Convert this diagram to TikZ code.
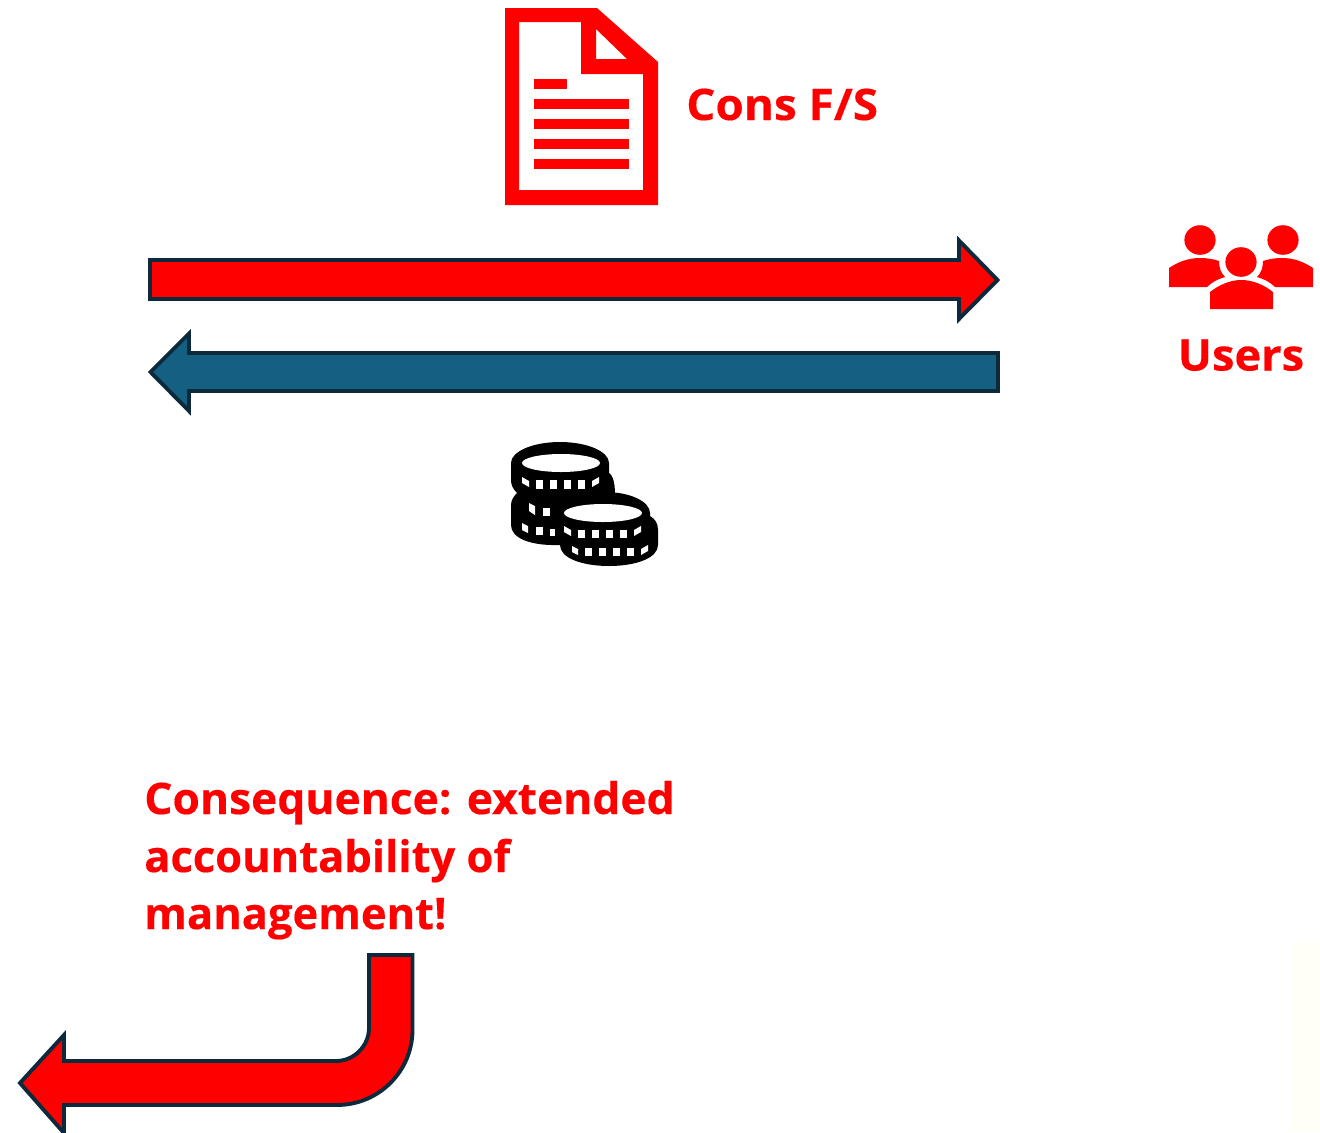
\documentclass[tikz,border=0pt]{standalone}
\usepackage{fontspec}
\setmainfont[BoldFeatures={FakeBold=0.35}]{Open Sans}
\definecolor{myred}{RGB}{255,0,0}
\definecolor{myblue}{RGB}{21,96,130}
\definecolor{myline}{RGB}{12,42,60}
\definecolor{pale}{RGB}{255,255,245}
\tikzset{
  bigarrow/.style={draw=myline,line width=2.9pt,miter limit=10,line join=miter},
  redtext/.style={text=myred,font=\bfseries\fontsize{32.6pt}{43pt}\selectfont,inner sep=0pt,anchor=base west},
  redicon/.style={fill=myred,draw=none},
  blackicon/.style={fill=black,draw=none},
  whitehole/.style={fill=white,draw=none}
}
\begin{document}
\begin{tikzpicture}[x=0.75pt,y=-0.75pt]
\useasboundingbox (0,0) rectangle (1320,1132);
\fill[pale] (1292,943) rectangle (1320,1132);
% document icon
\fill[redicon,even odd rule] (505,8) -- (597,8) -- (658,62) -- (658,205) -- (505,205) -- cycle
  (519,22) -- (581,22) -- (581,74) -- (643,74) -- (643,190) -- (519,190) -- cycle
  (596,29) -- (596,59) -- (627,59) -- cycle;
\fill[redicon] (534,79) rectangle (567,89);
\foreach \yy in {99,119,139,159} \fill[redicon] (534,\yy) rectangle (629,\yy+10);
\node[redtext] (cons) at (686,120) {\scalebox{1.055}[1]{Cons F/S}};
% users icon
\fill[redicon] (1200,240) ellipse[x radius=15.6,y radius=14.8];
\fill[redicon] (1283,240) ellipse[x radius=15.6,y radius=14.8];
\fill[redicon] (1241,262) ellipse[x radius=15.6,y radius=14.8];
\fill[redicon] (1169,287) -- (1169,268) .. controls (1178,262) and (1188,258) .. (1200,258)
  .. controls (1207,258) and (1213,259) .. (1219,261) .. controls (1219,268) and (1221,273) .. (1225,277)
  .. controls (1218,279) and (1212,282) .. (1207,287) -- cycle;
\fill[redicon] (1313,287) -- (1313,268) .. controls (1304,262) and (1294,258) .. (1282,258)
  .. controls (1275,258) and (1269,259) .. (1263,261) .. controls (1263,268) and (1261,273) .. (1257,277)
  .. controls (1264,279) and (1270,282) .. (1275,287) -- cycle;
\fill[redicon] (1210,309) -- (1210,292) .. controls (1219,285) and (1230,280) .. (1241,280)
  .. controls (1253,280) and (1264,285) .. (1273,292) -- (1273,309) -- cycle;
\node[redtext,anchor=base] (users) at (1241,370.5) {\scalebox{1.04}[1]{Users}};
% arrows
\draw[bigarrow,fill=myred] (150,260) -- (959,260) -- (959,240.5) -- (997.5,280) -- (959,319) -- (959,299) -- (150,299) -- cycle;
\draw[bigarrow,fill=myblue] (998,353) -- (189,353) -- (189,333.5) -- (150.5,372) -- (189,411) -- (189,391) -- (998,391) -- cycle;
% coins icon: rear stack
\fill[blackicon] (511,463) arc[start angle=180,end angle=360,x radius=49,y radius=21] -- (609,473)
  .. controls (612,475) and (615,480) .. (615,495) -- (615,520) -- (560,545)
  .. controls (530,546) and (511,538) .. (511,525) -- (511,505) .. controls (511,500) and (514,496) .. (517,493)
  .. controls (513,489) and (511,485) .. (511,480) -- cycle;
\fill[blackicon] (511,470) -- (609,470) .. controls (609,485) and (585,494) .. (560,494) .. controls (535,494) and (511,485) .. (511,470) -- cycle;
\fill[whitehole] (561,463) ellipse[x radius=39,y radius=9];
\foreach \xa/\xb in {536/543,550/557,564/571,578/585} \fill[whitehole] (\xa,480) rectangle (\xb,489);
\fill[whitehole] (522,477) -- (529,481) -- (529,487) -- (522,483) -- cycle;
\fill[whitehole] (592,481) -- (599,477) -- (599,483) -- (592,487) -- cycle;
\fill[whitehole] (529,503) -- (535,506) -- (535,515) -- (529,511) -- cycle;
\fill[whitehole] (543,508) rectangle (550,516);
\fill[whitehole] (522,523) -- (528,526) -- (528,533) -- (522,530) -- cycle;
\fill[whitehole] (536,527) rectangle (543,535);
\fill[whitehole] (550,529) rectangle (555,536);
% coins icon: front stack
\fill[blackicon] (560,513) arc[start angle=180,end angle=360,x radius=45,y radius=21] -- (650,516)
  .. controls (655,519) and (658,523) .. (658,530) -- (658,545)
  .. controls (658,558) and (636,566) .. (609,566) .. controls (582,566) and (560,558) .. (560,545) -- cycle;
\fill[whitehole] (603,513) ellipse[x radius=39,y radius=9];
\foreach \xa/\xb in {578/585,592/599,606/613,620/627} \fill[whitehole] (\xa,530) rectangle (\xb,538);
\fill[whitehole] (564,526) -- (571,530) -- (571,536) -- (564,532) -- cycle;
\fill[whitehole] (634,530) -- (641,526) -- (641,532) -- (634,536) -- cycle;
\foreach \xa/\xb in {585/592,599/606,613/620,627/634} \fill[whitehole] (\xa,548) rectangle (\xb,556);
\fill[whitehole] (572,546) -- (578,549) -- (578,555) -- (572,552) -- cycle;
\fill[whitehole] (641,549) -- (648,545) -- (648,551) -- (641,555) -- cycle;
% consequence text
\node[redtext] (l1) at (144,814) {\scalebox{1.02}[1]{Consequence: extended}};
\node[redtext] (l2) at (144,872) {accountability of};
\node[redtext] (l3) at (144,929) {management!};
% bent arrow
\begin{scope}
\clip (0,0) rectangle (1320,1132);
\draw[bigarrow,fill=myred] (369,955) -- (412.5,955) -- (412.5,1030)
  .. controls (412.5,1071) and (379,1105) .. (337,1105)
  -- (64,1105) -- (64,1133) -- (20,1083) -- (64,1035) -- (64,1061) -- (336,1061)
  .. controls (354,1061) and (369,1046) .. (369,1028)
  -- cycle;
\end{scope}
\end{tikzpicture}
\end{document}
